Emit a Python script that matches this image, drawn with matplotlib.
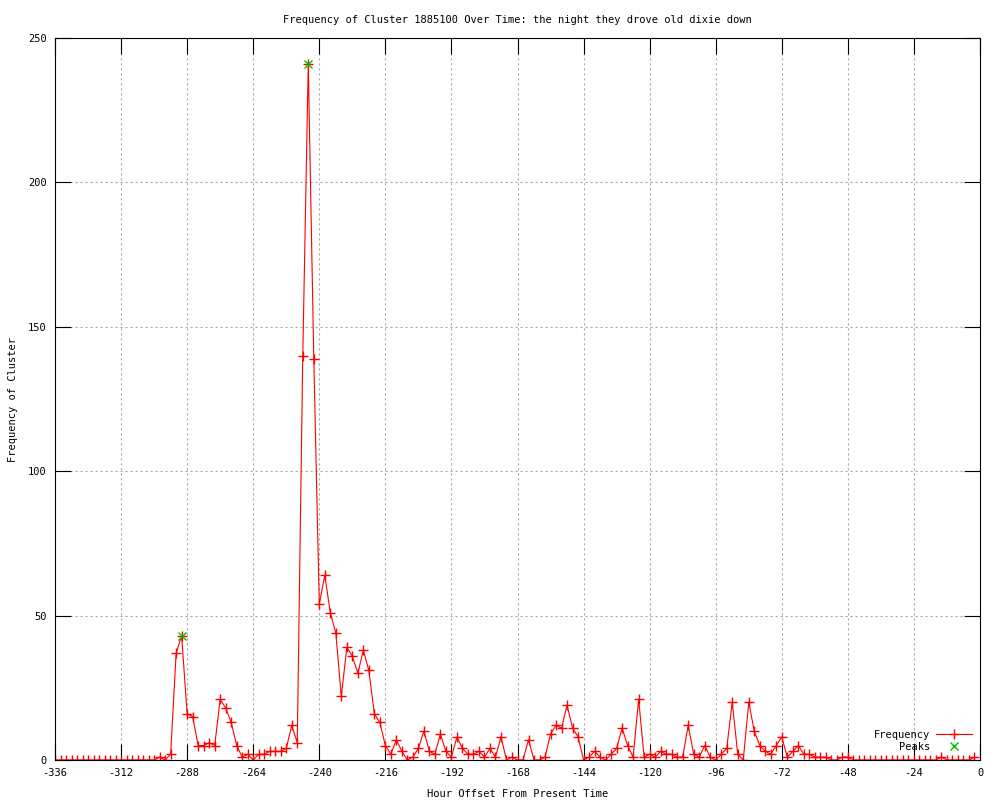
import numpy as np
import matplotlib
matplotlib.use("Agg")
import matplotlib.pyplot as plt

plt.rcParams['font.family'] = ['DejaVu Sans Mono']
plt.rcParams['axes.unicode_minus'] = False

# ── données : une valeur toutes les 2 heures, de -336 à -2 ──────────
hours = np.arange(-336, 0, 2)
frequency = [
    0, 0, 0, 0, 0, 0, 0, 0, 0, 0, 0, 0,            # -336 .. -314
    0, 0, 0, 0, 0, 0, 0, 1, 0, 2, 37, 43,          # -312 .. -290
    16, 15, 5, 5, 6, 5, 21, 18, 13, 5, 1, 2,       # -288 .. -266
    0, 2, 2, 3, 3, 3, 4, 12, 6, 140, 241, 139,     # -264 .. -242
    54, 64, 51, 44, 22, 39, 36, 30, 38, 31, 16, 13,  # -240 .. -218
    5, 2, 7, 3, 0, 1, 4, 10, 3, 2, 9, 3,           # -216 .. -194
    1, 8, 4, 2, 2, 3, 1, 4, 1, 8, 0, 1,            # -192 .. -170
    0, 0, 7, 0, 0, 1, 9, 12, 11, 19, 11, 8,        # -168 .. -146
    0, 1, 3, 1, 0, 2, 4, 11, 5, 1, 21, 1,          # -144 .. -122
    2, 1, 3, 2, 2, 1, 1, 12, 2, 1, 5, 1,           # -120 .. -98
    0, 2, 4, 20, 2, 0, 20, 10, 5, 3, 2, 5,         # -96 .. -74
    8, 1, 3, 5, 2, 2, 1, 1, 1, 0, 0, 1,            # -72 .. -50
    1, 0, 0, 0, 0, 0, 0, 0, 0, 0, 0, 0,            # -48 .. -26
    0, 0, 0, 0, 0, 1, 0, 0, 0, 0, 0, 1,            # -24 .. -2
]
peak_hours = [-290, -244]
peak_values = [43, 241]

x_ticks = list(range(-336, 1, 24))
y_ticks = [0, 50, 100, 150, 200, 250]

title = "Frequency of Cluster 1885100 Over Time: the night they drove old dixie down"

# ── figure ─────────────────────────────────────────────────────────
fs = 7.5
fig = plt.figure(figsize=(10, 8), dpi=100)
ax = fig.add_axes([0.055, 0.05, 0.925, 0.9025])

ax.plot(hours, frequency, color='#ff0000', lw=0.8, marker='+',
        ms=7, mew=1.0, label="Frequency")
ax.plot(peak_hours, peak_values, ls='none', color='#00c000', marker='x',
        ms=6, mew=1.0, label="    Peaks")

ax.set_xlim(-336, 0)
ax.set_ylim(0, 250)
ax.set_xticks(x_ticks)
ax.set_yticks(y_ticks)
ax.tick_params(direction='in', length=11.5, width=0.8, labelsize=fs,
               top=True, right=True, color='black', pad=6)
ax.grid(True, color='#a8a8a8', lw=0.8, ls=(0, (2, 2.5)))
for s in ax.spines.values():
    s.set_linewidth(0.8)

ax.set_title(title, fontsize=fs, pad=11)
ax.set_xlabel("Hour Offset From Present Time", fontsize=fs, labelpad=8)
ax.set_ylabel("Frequency of Cluster", fontsize=fs, labelpad=7)

leg = ax.legend(loc='lower right', frameon=False, fontsize=fs,
                markerfirst=False, numpoints=1, handlelength=3.4,
                handletextpad=0.6, labelspacing=0.15,
                borderaxespad=0.4)

fig.savefig("out.png", dpi=100)
